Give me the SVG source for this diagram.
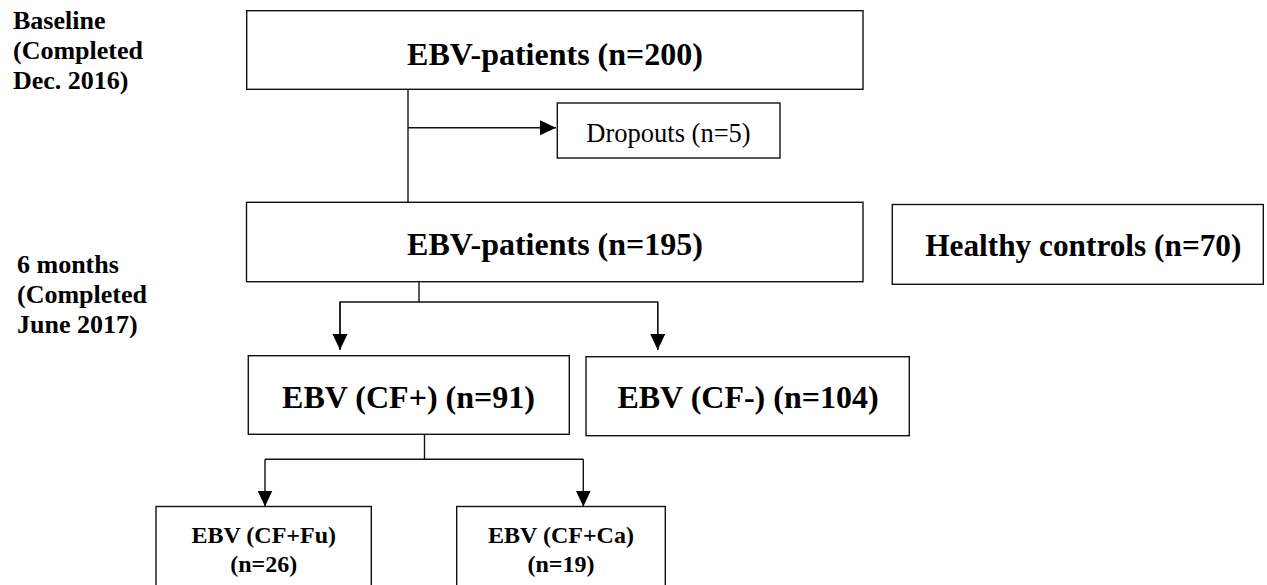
<svg xmlns="http://www.w3.org/2000/svg" width="1267" height="585" viewBox="0 0 1267 585">
<style>
  .box { fill: #fff; stroke: #111; stroke-width: 1.4; }
  .ln { fill: none; stroke: #111; stroke-width: 1.4; }
  .t { font-family: "Liberation Serif", "Times New Roman", serif; fill: #000; }
  .big { font-size: 32px; font-weight: bold; text-anchor: middle; }
  .sub { font-size: 24px; font-weight: bold; text-anchor: middle; }
  .lab { font-size: 26px; font-weight: bold; }
  .reg { font-size: 26.5px; text-anchor: middle; }
</style>
<defs>
  <marker id="ah" viewBox="0 0 16 16" refX="16" refY="8" markerWidth="16" markerHeight="16" markerUnits="userSpaceOnUse" orient="auto">
    <path d="M0,0.5 L16,8 L0,15.5 z" fill="#000"/>
  </marker>
</defs>

<g id="label-baseline" class="t lab">
  <text x="13" y="29">Baseline</text>
  <text x="13" y="59">(Completed</text>
  <text x="13" y="89">Dec. 2016)</text>
</g>
<g id="label-6months" class="t lab">
  <text x="17" y="273">6 months</text>
  <text x="17" y="303">(Completed</text>
  <text x="17" y="333">June 2017)</text>
</g>

<g id="connectors">
  <line class="ln" x1="408" y1="89.3" x2="408" y2="202.3"/>
  <line class="ln" x1="408" y1="127.7" x2="556" y2="127.7" marker-end="url(#ah)"/>
  <line class="ln" x1="419" y1="281.7" x2="419" y2="302"/>
  <polyline class="ln" points="340,349.5 340,302 657.7,302 657.7,349.5"/>
  <line class="ln" x1="340" y1="302" x2="340" y2="350" marker-end="url(#ah)"/>
  <line class="ln" x1="657.7" y1="302" x2="657.7" y2="350" marker-end="url(#ah)"/>
  <line class="ln" x1="424.5" y1="434.3" x2="424.5" y2="459.3"/>
  <line class="ln" x1="265" y1="459.3" x2="583.3" y2="459.3"/>
  <line class="ln" x1="265" y1="459.3" x2="265" y2="506.5" marker-end="url(#ah)"/>
  <line class="ln" x1="583.3" y1="459.3" x2="583.3" y2="506.5" marker-end="url(#ah)"/>
</g>

<g id="node-ebv200">
  <rect class="box" x="246.7" y="10.7" width="616.3" height="78.6"/>
  <text class="t big" x="555" y="65">EBV-patients (n=200)</text>
</g>
<g id="node-dropouts">
  <rect class="box" x="557.3" y="103" width="222.7" height="55"/>
  <text class="t reg" x="668.5" y="141.7">Dropouts (n=5)</text>
</g>
<g id="node-ebv195">
  <rect class="box" x="246.5" y="202.3" width="616.5" height="79.4"/>
  <text class="t big" x="555" y="255">EBV-patients (n=195)</text>
</g>
<g id="node-healthy">
  <rect class="box" x="892.3" y="204.5" width="371" height="79.8"/>
  <text class="t big" x="1083.3" y="256" style="font-size:31.3px">Healthy controls (n=70)</text>
</g>
<g id="node-cfplus">
  <rect class="box" x="248.3" y="355.7" width="321" height="78.6"/>
  <text class="t big" x="408.5" y="408.3">EBV (CF+) (n=91)</text>
</g>
<g id="node-cfminus">
  <rect class="box" x="586" y="356.7" width="323.3" height="79"/>
  <text class="t big" x="748" y="408">EBV (CF-) (n=104)</text>
</g>
<g id="node-cffu">
  <rect class="box" x="156" y="506.5" width="215.3" height="100"/>
  <text class="t sub" x="263.7" y="542.7">EBV (CF+Fu)</text>
  <text class="t sub" x="263.7" y="571.7">(n=26)</text>
</g>
<g id="node-cfca">
  <rect class="box" x="456.7" y="506.5" width="208.6" height="100"/>
  <text class="t sub" x="561" y="542.7">EBV (CF+Ca)</text>
  <text class="t sub" x="561" y="571.7">(n=19)</text>
</g>
</svg>
